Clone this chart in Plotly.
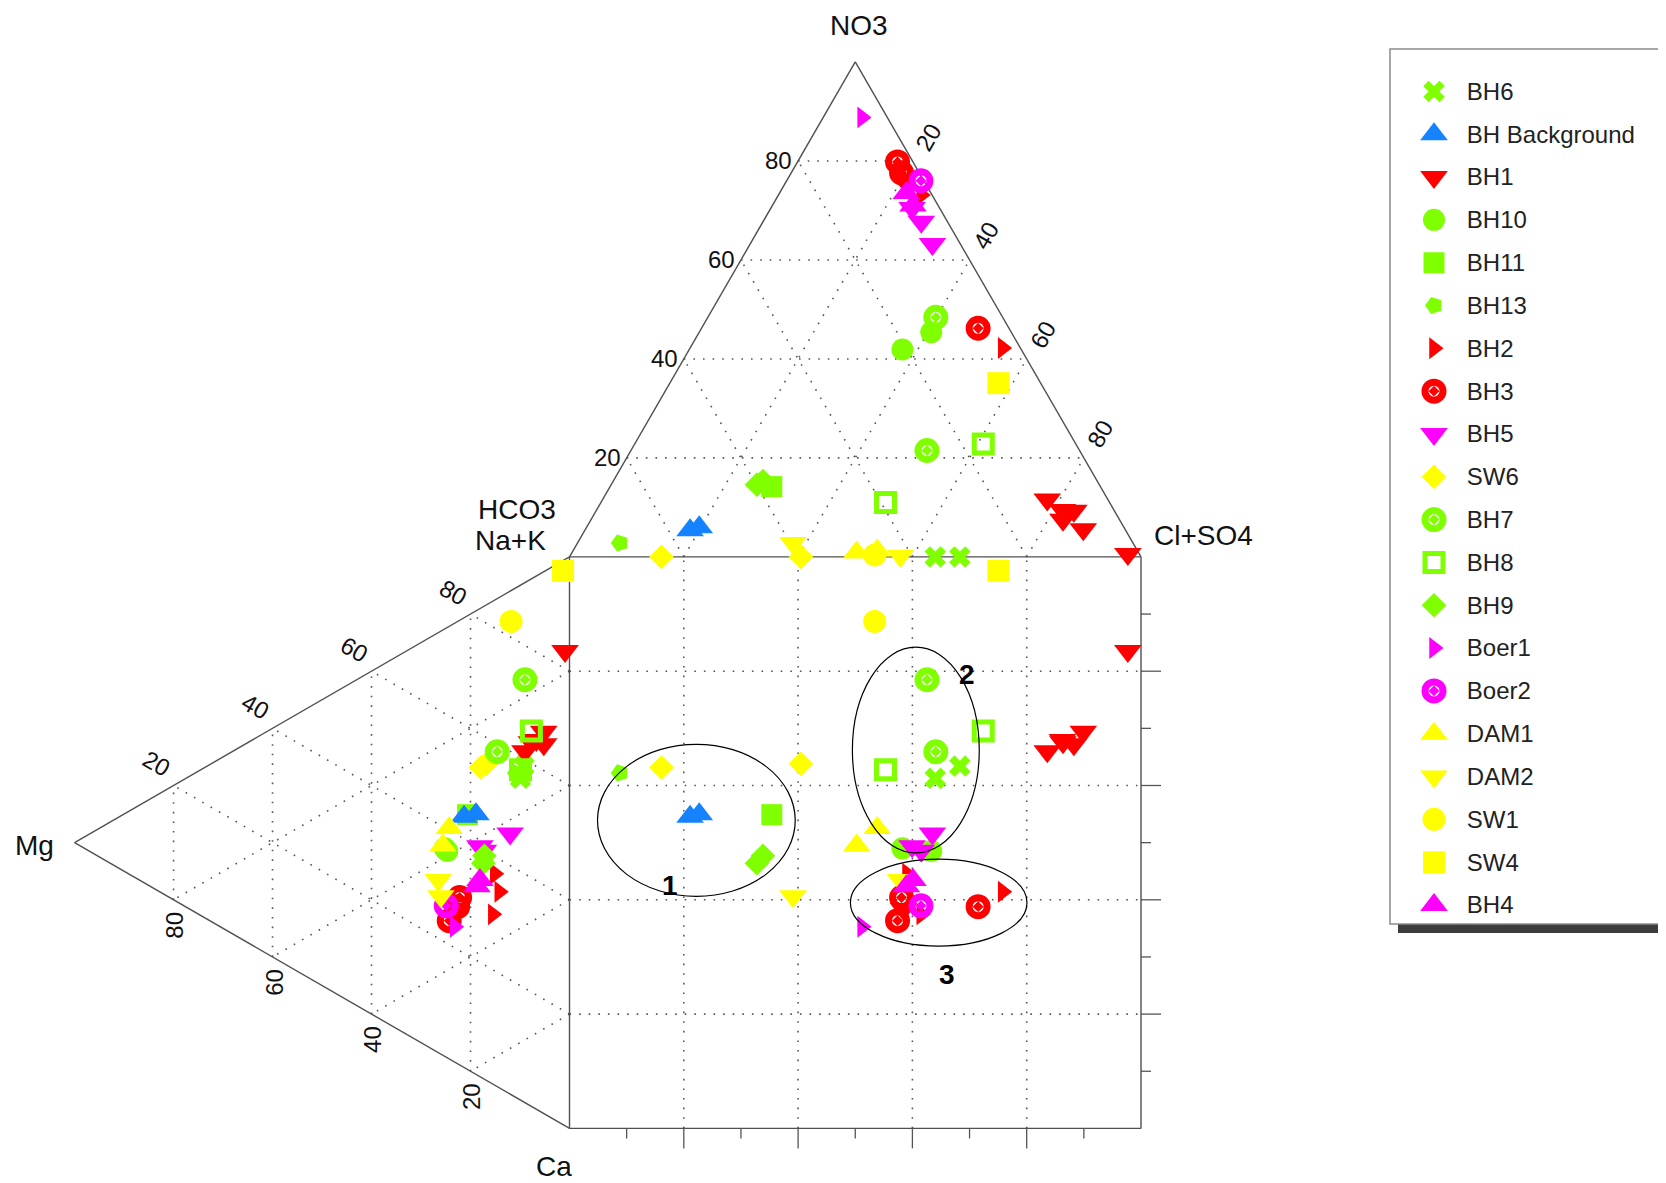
import numpy as np
import plotly.graph_objects as go

# ---------------- data (percent of meq) ----------------
series_names = ["BH6", "BH Background", "BH1", "BH10", "BH11", "BH13", "BH2", "BH3",
                "BH5", "SW6", "BH7", "BH8", "BH9", "Boer1", "Boer2", "DAM1", "DAM2",
                "SW1", "SW4", "BH4"]

# anions: NO3 and Cl+SO4 (HCO3 = 100 - NO3 - Cl+SO4)
no3_pct = {
    "BH6": [0.0, 0.0], "BH Background": [5.4, 6.0],
    "BH1": [0.6, 11.6, 9.5, 9.3, 5.6, 7.5, 76.3], "BH10": [41.9, 45.4],
    "BH11": [14.2], "BH13": [2.8], "BH2": [73.1, 42.2, 75.5], "BH3": [79.8, 46.2, 77.6],
    "BH5": [63.2, 67.7, 70.5], "SW6": [0.0, 0.0], "BH7": [21.5, 48.4], "BH8": [22.8, 11.0],
    "BH9": [14.6, 15.3], "Boer1": [88.8], "Boer2": [76.0], "DAM1": [0.9, 1.3],
    "DAM2": [2.8, 0.2], "SW1": [0.4], "SW4": [35.1], "BH4": [73.5, 71.0],
}
clso4_pct = {
    "BH6": [64.0, 68.3], "BH Background": [18.4, 19.7],
    "BH1": [97.4, 77.8, 81.5, 83.6, 87.1, 82.6, 20.3], "BH10": [37.3, 40.6],
    "BH11": [28.3], "BH13": [7.4], "BH2": [25.0, 54.7, 21.3], "BH3": [17.5, 48.4, 19.3],
    "BH5": [31.9, 27.7, 24.7], "SW6": [16.1, 40.5], "BH7": [51.8, 39.9], "BH8": [61.0, 49.8],
    "BH9": [25.5, 26.2], "Boer1": [6.8], "Boer2": [23.5], "DAM1": [49.8, 53.2],
    "DAM2": [37.7, 57.8], "SW1": [53.2], "SW4": [57.5], "BH4": [22.2, 24.6],
}
# cations: Na+K and Mg (Ca = 100 - Na+K - Mg)
nak_pct = {
    "BH6": [56.3, 58.8], "BH Background": [43.9, 45.5],
    "BH1": [83.1, 61.5, 64.6, 64.6, 66.8, 63.7, 26.8], "BH10": [36.4, 36.2],
    "BH11": [44.6], "BH13": [56.8], "BH2": [29.7, 34.3, 37.0], "BH3": [24.2, 27.5, 29.3],
    "BH5": [45.6, 39.9, 40.3], "SW6": [54.2, 55.4], "BH7": [74.0, 58.6], "BH8": [65.7, 57.8],
    "BH9": [37.7, 39.1], "Boer1": [23.7], "Boer2": [26.5], "DAM1": [36.7, 40.4],
    "DAM2": [27.6, 30.2], "SW1": [82.8], "SW4": [96.9], "BH4": [33.0, 34.4],
}
mg_pct = {
    "BH6": [9.9, 9.2], "BH Background": [21.3, 18.9],
    "BH1": [0.9, 9.0, 6.7, 5.2, 5.2, 7.7, 23.2], "BH10": [25.2, 24.7],
    "BH11": [20.6], "BH13": [10.8], "BH2": [15.5, 14.2, 15.1], "BH3": [24.3, 22.6, 22.2],
    "BH5": [12.0, 17.4, 18.1], "SW6": [17.9, 16.8], "BH7": [9.0, 14.6], "BH8": [7.7, 9.9],
    "BH9": [17.4, 17.2], "Boer1": [23.2], "Boer2": [24.9], "DAM1": [25.6, 24.3],
    "DAM2": [26.0, 26.5], "SW1": [11.8], "SW4": [1.3], "BH4": [18.7, 18.1],
}

tick_values = [20, 40, 60, 80]
minor_ticks = [10, 20, 30, 40, 50, 60, 70, 80, 90]
group_labels = ["1", "2", "3"]

# ---------------- styles ----------------
GREEN, BLUE, RED, MAG, YEL = "#7FFF00", "#1582FF", "#FF0000", "#FF00FF", "#FFFF00"
styles = {
    "BH6": dict(symbol="x", color=GREEN, size=19),
    "BH Background": dict(symbol="triangle-up", color=BLUE, size=24),
    "BH1": dict(symbol="triangle-down", color=RED, size=24),
    "BH10": dict(symbol="circle", color=GREEN, size=22),
    "BH11": dict(symbol="square", color=GREEN, size=21),
    "BH13": dict(symbol="pentagon", color=GREEN, size=18, angle=-90),
    "BH2": dict(symbol="triangle-right", color=RED, size=19),
    "BH3": dict(symbol="circle-open-dot", color=RED, size=18, lw=7),
    "BH5": dict(symbol="triangle-down", color=MAG, size=24),
    "SW6": dict(symbol="diamond", color=YEL, size=19),
    "BH7": dict(symbol="circle-open-dot", color=GREEN, size=18, lw=7),
    "BH8": dict(symbol="square-open", color=GREEN, size=18, lw=5),
    "BH9": dict(symbol="diamond", color=GREEN, size=19),
    "Boer1": dict(symbol="triangle-right", color=MAG, size=19),
    "Boer2": dict(symbol="circle-open-dot", color=MAG, size=18, lw=7),
    "DAM1": dict(symbol="triangle-up", color=YEL, size=24),
    "DAM2": dict(symbol="triangle-down", color=YEL, size=24),
    "SW1": dict(symbol="circle", color=YEL, size=23),
    "SW4": dict(symbol="square", color=YEL, size=22),
    "BH4": dict(symbol="triangle-up", color=MAG, size=24),
}

H = np.sqrt(3) / 2


def anion_xy(n, c):
    n, c = np.asarray(n), np.asarray(c)
    return c + n / 2, 100 + n * H


def cation_xy(na, mg):
    na, mg = np.asarray(na), np.asarray(mg)
    return -mg * H, na + mg / 2


def make_marker(name):
    st = styles[name]
    m = dict(symbol=st["symbol"], color=st["color"], size=st["size"])
    m["line"] = dict(color=st["color"], width=st["lw"]) if "lw" in st else dict(width=0)
    if "angle" in st:
        m["angle"] = st["angle"]
    return m


fig = go.Figure()

# ---------------- frame ----------------
def seglist(segs):
    xs, ys = [], []
    for (x0, y0), (x1, y1) in segs:
        xs += [x0, x1, None]
        ys += [y0, y1, None]
    return xs, ys

grid = []
for k in tick_values:
    grid.append(((k / 2, 100 + k * H), (100 - k / 2, 100 + k * H)))
    grid.append(((k, 100), (k + (100 - k) / 2, 100 + (100 - k) * H)))
    grid.append(((100 - k, 100), ((100 - k) / 2, 100 + (100 - k) * H)))
    grid.append(((-k * H, k / 2), (-k * H, 100 - k / 2)))
    grid.append(((0, k), (-(100 - k) * H, k + (100 - k) / 2)))
    grid.append(((0, 100 - k), (-(100 - k) * H, (100 - k) / 2)))
    grid.append(((k, 0), (k, 100)))
    grid.append(((0, k), (100, k)))
gx, gy = seglist(grid)
fig.add_trace(go.Scatter(x=gx, y=gy, mode="lines", showlegend=False, hoverinfo="skip",
                         line=dict(color="#555555", width=1.6, dash="1.6px,8px")))

ticks = []
for k in minor_ticks:
    L = 3.5 if k % 20 == 0 else 1.75
    ticks.append(((k, 0), (k, -L)))
    ticks.append(((100, k), (100 + L, k)))
tx, ty = seglist(ticks)
fig.add_trace(go.Scatter(x=tx, y=ty, mode="lines", showlegend=False, hoverinfo="skip",
                         line=dict(color="#555555", width=1.3)))

outline = [((0, 100), (50, 100 + 100 * H)), ((50, 100 + 100 * H), (100, 100)),
           ((0, 100), (-100 * H, 50)), ((-100 * H, 50), (0, 0)),
           ((0, 0), (100, 0)), ((100, 0), (100, 100)), ((100, 100), (0, 100)), ((0, 100), (0, 0))]
ox, oy = seglist(outline)
fig.add_trace(go.Scatter(x=ox, y=oy, mode="lines", showlegend=False, hoverinfo="skip",
                         line=dict(color="#505050", width=1.4)))

# ---------------- data traces ----------------
draw_order = [n for n in series_names if n != "BH Background"]
draw_order.insert(draw_order.index("BH11") + 1, "BH Background")
for name in draw_order:
    au, av = anion_xy(no3_pct[name], clso4_pct[name])
    cu, cv = cation_xy(nak_pct[name], mg_pct[name])
    xs = np.concatenate([au, cu, au])
    ys = np.concatenate([av, cv, cv])
    fig.add_trace(go.Scatter(x=xs, y=ys, mode="markers", name=name, showlegend=False,
                             marker=make_marker(name), hoverinfo="name"))

# ---------------- key (legend panel on its own category axis) ----------------
for name in series_names:
    fig.add_trace(go.Scatter(x=[0], y=[name], mode="markers", name=name, showlegend=False,
                             xaxis="x2", yaxis="y2", marker=make_marker(name), hoverinfo="name"))

# ---------------- annotations ----------------
ann = []
TF = dict(family="Liberation Sans, Arial, sans-serif", size=24, color="#111111")
for k in tick_values:
    ann.append(dict(x=k / 2 - 0.7, y=100 + k * H, text=str(k), xanchor="right", yanchor="middle",
                    showarrow=False, font=TF))
    ann.append(dict(x=50 + k / 2 + 2.9, y=100 + (100 - k) * H + 4.2, text=str(k), textangle=-60,
                    xanchor="center", yanchor="middle", showarrow=False, font=TF))
    ann.append(dict(x=-100 * H + k * H - 3.0, y=50 + k / 2 + 3.8, text=str(k), textangle=30,
                    xanchor="center", yanchor="middle", showarrow=False, font=TF))
    ann.append(dict(x=-k * H + 0.2, y=k / 2 - 4.4, text=str(k), textangle=-90,
                    xanchor="center", yanchor="middle", showarrow=False, font=TF))

AF = dict(family="Liberation Sans, Arial, sans-serif", size=28, color="#111111")
for txt, x, y, xa in [("NO3", 50.6, 193.0, "center"), ("Cl+SO4", 101.9, 103.7, "left"),
                      ("HCO3", -9.1, 108.3, "center"), ("Na+K", -10.4, 102.8, "center"),
                      ("Mg", -93.7, 49.5, "center"), ("Ca", -2.8, -6.7, "center")]:
    ann.append(dict(x=x, y=y, text=txt, xanchor=xa, yanchor="middle", showarrow=False, font=AF))

GF = dict(family="Liberation Sans, Arial, sans-serif", size=28, color="#000000")
for txt, x, y in zip(group_labels, [17.5, 69.5, 66.1], [42.5, 79.4, 26.9]):
    ann.append(dict(x=x, y=y, text="<b>%s</b>" % txt, showarrow=False, font=GF,
                    xanchor="center", yanchor="middle"))

# ---------------- geometry of the page ----------------
W, HH = 1666, 1183
OFF = 8            # page body margin
PX = 5.715         # pixels per percent unit
u0 = -(569.5 - OFF) / PX
v_top = (1128.4 - OFF) / PX


def px_x(p):       # page px -> paper x
    return (p - OFF) / W


def px_y(p):       # page px -> paper y
    return 1 - (p - OFF) / HH

# ---------------- shapes ----------------
shapes = []
for (cx, cy, a, b) in [(22.2, 53.9, 17.3, 13.3), (60.6, 66.2, 11.1, 18.0), (64.6, 39.5, 15.45, 7.6)]:
    shapes.append(dict(type="circle", xref="x", yref="y", x0=cx - a, x1=cx + a, y0=cy - b, y1=cy + b,
                       line=dict(color="#000000", width=1.2)))
shapes.append(dict(type="rect", xref="paper", yref="paper", x0=px_x(1398), x1=1.02,
                   y0=px_y(933), y1=px_y(924), fillcolor="#3c3c3c", line=dict(width=0),
                   layer="below"))
shapes.append(dict(type="rect", xref="paper", yref="paper", x0=px_x(1390), x1=1.02,
                   y0=px_y(924), y1=px_y(49), fillcolor="white",
                   line=dict(color="#8a8a8a", width=1.5), layer="below"))

first_c, last_c = 91.4, 905.0
slot = (last_c - first_c) / (len(series_names) - 1)

fig.update_layout(
    width=W, height=HH, margin=dict(l=0, r=0, t=0, b=0),
    paper_bgcolor="white", plot_bgcolor="rgba(0,0,0,0)",
    showlegend=False,
    xaxis=dict(range=[u0, u0 + W / PX], visible=False, fixedrange=True, domain=[0, 1]),
    yaxis=dict(range=[v_top - HH / PX, v_top], visible=False, fixedrange=True, domain=[0, 1]),
    xaxis2=dict(domain=[px_x(1434 - 20), px_x(1434 + 20)], range=[-1, 1], visible=False,
                fixedrange=True, anchor="y2"),
    yaxis2=dict(domain=[px_y(last_c + slot / 2), px_y(first_c - slot / 2)], anchor="x2",
                type="category", categoryorder="array", categoryarray=series_names,
                range=[len(series_names) - 0.5, -0.5], side="right", showgrid=False,
                zeroline=False, showline=False, ticks="outside", ticklen=7,
                tickcolor="rgba(0,0,0,0)", fixedrange=True,
                tickfont=dict(family="Liberation Sans, Arial, sans-serif", size=24,
                              color="#222222")),
    annotations=ann, shapes=shapes,
    font=dict(family="Liberation Sans, Arial, sans-serif"),
)

fig.write_html("out.html")
